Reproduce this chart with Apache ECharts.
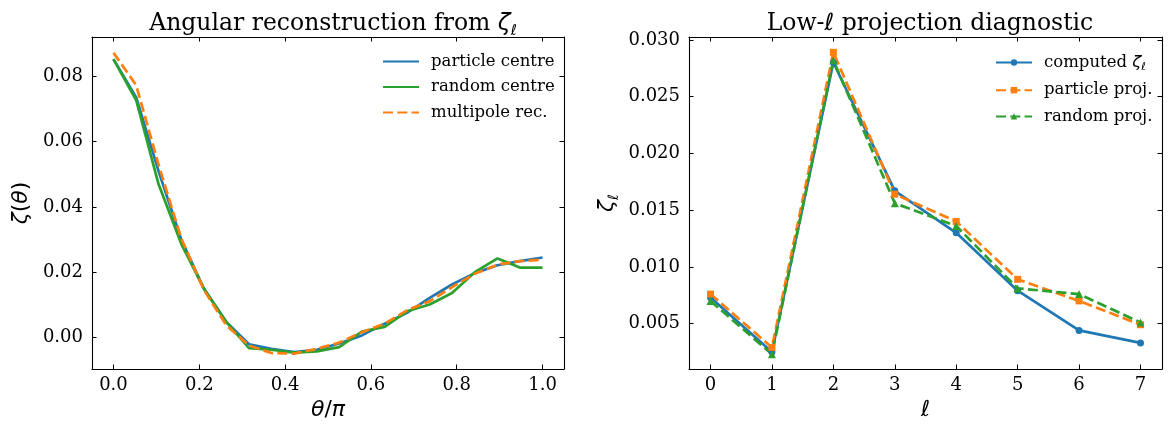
<!DOCTYPE html>
<html>
<head>
<meta charset="utf-8">
<script src="https://cdn.jsdelivr.net/npm/echarts@6/dist/echarts.min.js"></script>
<style>
  html, body { margin: 0; background: #fff; }
  #chart { width: 1172px; height: 431px; }
</style>
</head>
<body>
<div id="chart"></div>
<script>
// left panel: zeta(theta) on theta/pi grid
const thetaOverPi = [0, 0.053, 0.105, 0.158, 0.211, 0.263, 0.316, 0.368, 0.421, 0.474,
  0.526, 0.579, 0.632, 0.684, 0.737, 0.789, 0.842, 0.895, 0.947, 1.0];
const particleCentre = [0.0853, 0.0736, 0.0510, 0.0300, 0.0149, 0.0047, -0.0021, -0.0035, -0.0045, -0.0038,
  -0.0019, 0.0006, 0.0042, 0.0075, 0.0121, 0.0162, 0.0197, 0.0221, 0.0234, 0.0245];
const randomCentre = [0.0853, 0.0727, 0.0470, 0.0287, 0.0149, 0.0047, -0.0033, -0.0038, -0.0047, -0.0043,
  -0.0030, 0.0018, 0.0032, 0.0080, 0.0101, 0.0136, 0.0200, 0.0242, 0.0214, 0.0214];
const multipoleRec = [0.0873, 0.0773, 0.0530, 0.0303, 0.0145, 0.0037, -0.0025, -0.0048, -0.0050, -0.0035,
  -0.0016, 0.0016, 0.0042, 0.0083, 0.0111, 0.0154, 0.0195, 0.0223, 0.0234, 0.0238];

// right panel: low-ell multipoles
const ells = [0, 1, 2, 3, 4, 5, 6, 7];
const computedZeta = [0.0073, 0.0025, 0.0280, 0.0167, 0.0130, 0.0079, 0.0044, 0.0033];
const particleProj = [0.0076, 0.0029, 0.0289, 0.0164, 0.0140, 0.0089, 0.0070, 0.0049];
const randomProj = [0.0070, 0.0023, 0.0282, 0.0156, 0.0136, 0.0081, 0.0076, 0.0051];

// tick labels
const xTicksLeft = [0, 0.2, 0.4, 0.6, 0.8, 1.0];
const yTicksLeft = [0, 0.02, 0.04, 0.06, 0.08];
const xTicksRight = [0, 1, 2, 3, 4, 5, 6, 7];
const yTicksRight = [0.005, 0.010, 0.015, 0.020, 0.025, 0.030];

const BLUE = '#1f77b4', ORANGE = '#ff7f0e', GREEN = '#2ca02c';
const SERIF = 'DejaVu Serif';
const MATH = 'DejaVu Sans';
const LW = 2.7;
const DASH = [10, 4.3];

const pairs = (xs, ys) => xs.map((x, i) => [x, ys[i]]);

// title text (bigger) and axis-name text
const titleRich = {
  t: { fontFamily: SERIF, fontWeight: 'normal', fontSize: 23.5, color: '#000', lineHeight: 30 },
  m: { fontFamily: MATH, fontWeight: 'normal', fontStyle: 'italic', fontSize: 23.5, color: '#000', lineHeight: 30 },
  s: { fontFamily: MATH, fontWeight: 'normal', fontStyle: 'italic', fontSize: 15, color: '#000', verticalAlign: 'bottom', lineHeight: 30 }
};
const mathRich = {
  m: { fontFamily: MATH, fontWeight: 'normal', fontStyle: 'italic', fontSize: 22, color: '#000', lineHeight: 28 },
  s: { fontFamily: MATH, fontWeight: 'normal', fontStyle: 'italic', fontSize: 14, color: '#000', verticalAlign: 'bottom', lineHeight: 28 },
  u: { fontFamily: MATH, fontWeight: 'normal', fontSize: 22, color: '#000', lineHeight: 28 }
};
const legendRich = {
  n: { fontFamily: SERIF, fontSize: 16.5, color: '#000' },
  m: { fontFamily: MATH, fontStyle: 'italic', fontSize: 16.5, color: '#000' },
  s: { fontFamily: MATH, fontStyle: 'italic', fontSize: 11, color: '#000', padding: [9, 0, 0, 0] }
};

function frameAxis(gridIndex, position, min, max, ticks, showLabel, fmt, extra) {
  return Object.assign({
    type: 'value', gridIndex, position, min, max,
    axisLine: { show: true, onZero: false, lineStyle: { color: '#000', width: 1.1 } },
    axisTick: { show: true, inside: true, length: 4.5, customValues: ticks, lineStyle: { color: '#000', width: 1 } },
    axisLabel: showLabel ? {
      show: true, customValues: ticks, formatter: fmt, margin: position === 'bottom' ? 7 : 9,
      fontFamily: SERIF, fontSize: 18, color: '#000'
    } : { show: false },
    splitLine: { show: false }
  }, extra || {});
}

const chart = echarts.init(document.getElementById('chart'), null, { renderer: 'canvas' });

chart.setOption({
  animation: false,
  backgroundColor: '#fff',
  title: [
    { text: '{t|Angular reconstruction from }{m|ζ}{s|ℓ}', left: 328, top: 4, textAlign: 'center',
      textStyle: { fontWeight: 'normal', rich: titleRich } },
    { text: '{t|Low-}{m|ℓ}{t| projection diagnostic}', left: 925, top: 4, textAlign: 'center',
      textStyle: { fontWeight: 'normal', rich: titleRich } }
  ],
  grid: [
    { left: 92, top: 37, width: 472, height: 332 },
    { left: 689, top: 37, width: 473, height: 332 }
  ],
  legend: [
    {
      data: ['particle centre', 'random centre', 'multipole rec.'],
      orient: 'vertical', left: 377, top: 48, itemWidth: 36, itemHeight: 8, itemGap: 8.5,
      itemStyle: { opacity: 0 },
      textStyle: { fontFamily: SERIF, fontSize: 16.5, color: '#000', padding: [0, 0, 0, 7] }
    },
    {
      data: ['computed ζℓ', 'particle proj.', 'random proj.'],
      orient: 'vertical', left: 990, top: 49, itemWidth: 36, itemHeight: 8, itemGap: 9.2,
      textStyle: { fontFamily: SERIF, fontSize: 16.5, color: '#000', padding: [0, 0, 0, 7], rich: legendRich },
      formatter: name => name === 'computed ζℓ' ? '{n|computed }{m|ζ}{s|ℓ}' : '{n|' + name + '}'
    }
  ],
  xAxis: [
    frameAxis(0, 'bottom', -0.05, 1.05, xTicksLeft, true, v => v.toFixed(1), {
      name: '{m|θ}{u|/}{m|π}', nameLocation: 'middle', nameGap: 25,
      nameTextStyle: { rich: mathRich }
    }),
    frameAxis(0, 'top', -0.05, 1.05, xTicksLeft, false),
    frameAxis(1, 'bottom', -0.35, 7.35, xTicksRight, true, v => String(v), {
      name: '{m|ℓ}', nameLocation: 'middle', nameGap: 25,
      nameTextStyle: { rich: mathRich }
    }),
    frameAxis(1, 'top', -0.35, 7.35, xTicksRight, false)
  ],
  yAxis: [
    frameAxis(0, 'left', -0.0097, 0.0921, yTicksLeft, true, v => v.toFixed(2), {
      name: '{m|ζ}{u|(}{m|θ}{u|)}', nameLocation: 'middle', nameGap: 57,
      nameTextStyle: { rich: mathRich }
    }),
    frameAxis(0, 'right', -0.0097, 0.0921, yTicksLeft, false),
    frameAxis(1, 'left', 0.0010, 0.03025, yTicksRight, true, v => v.toFixed(3), {
      name: '{m|ζ}{s|ℓ}', nameLocation: 'middle', nameGap: 68,
      nameTextStyle: { rich: mathRich }
    }),
    frameAxis(1, 'right', 0.0010, 0.03025, yTicksRight, false)
  ],
  series: [
    {
      name: 'particle centre', type: 'line', xAxisIndex: 0, yAxisIndex: 0,
      data: pairs(thetaOverPi, particleCentre), showSymbol: false, symbol: 'none',
      lineStyle: { color: BLUE, width: LW }, itemStyle: { color: BLUE }
    },
    {
      name: 'random centre', type: 'line', xAxisIndex: 0, yAxisIndex: 0,
      data: pairs(thetaOverPi, randomCentre), showSymbol: false, symbol: 'none',
      lineStyle: { color: GREEN, width: LW }, itemStyle: { color: GREEN }
    },
    {
      name: 'multipole rec.', type: 'line', xAxisIndex: 0, yAxisIndex: 0,
      data: pairs(thetaOverPi, multipoleRec), showSymbol: false, symbol: 'none',
      lineStyle: { color: ORANGE, width: LW, type: DASH }, itemStyle: { color: ORANGE }
    },
    {
      name: 'computed ζℓ', type: 'line', xAxisIndex: 2, yAxisIndex: 2,
      data: pairs(ells, computedZeta), symbol: 'circle', symbolSize: 7,
      lineStyle: { color: BLUE, width: LW }, itemStyle: { color: BLUE }
    },
    {
      name: 'particle proj.', type: 'line', xAxisIndex: 2, yAxisIndex: 2,
      data: pairs(ells, particleProj), symbol: 'rect', symbolSize: 7,
      lineStyle: { color: ORANGE, width: LW, type: DASH }, itemStyle: { color: ORANGE }
    },
    {
      name: 'random proj.', type: 'line', xAxisIndex: 2, yAxisIndex: 2,
      data: pairs(ells, randomProj), symbol: 'triangle', symbolSize: 8,
      lineStyle: { color: GREEN, width: LW, type: DASH }, itemStyle: { color: GREEN }
    }
  ]
});
</script>
</body>
</html>
